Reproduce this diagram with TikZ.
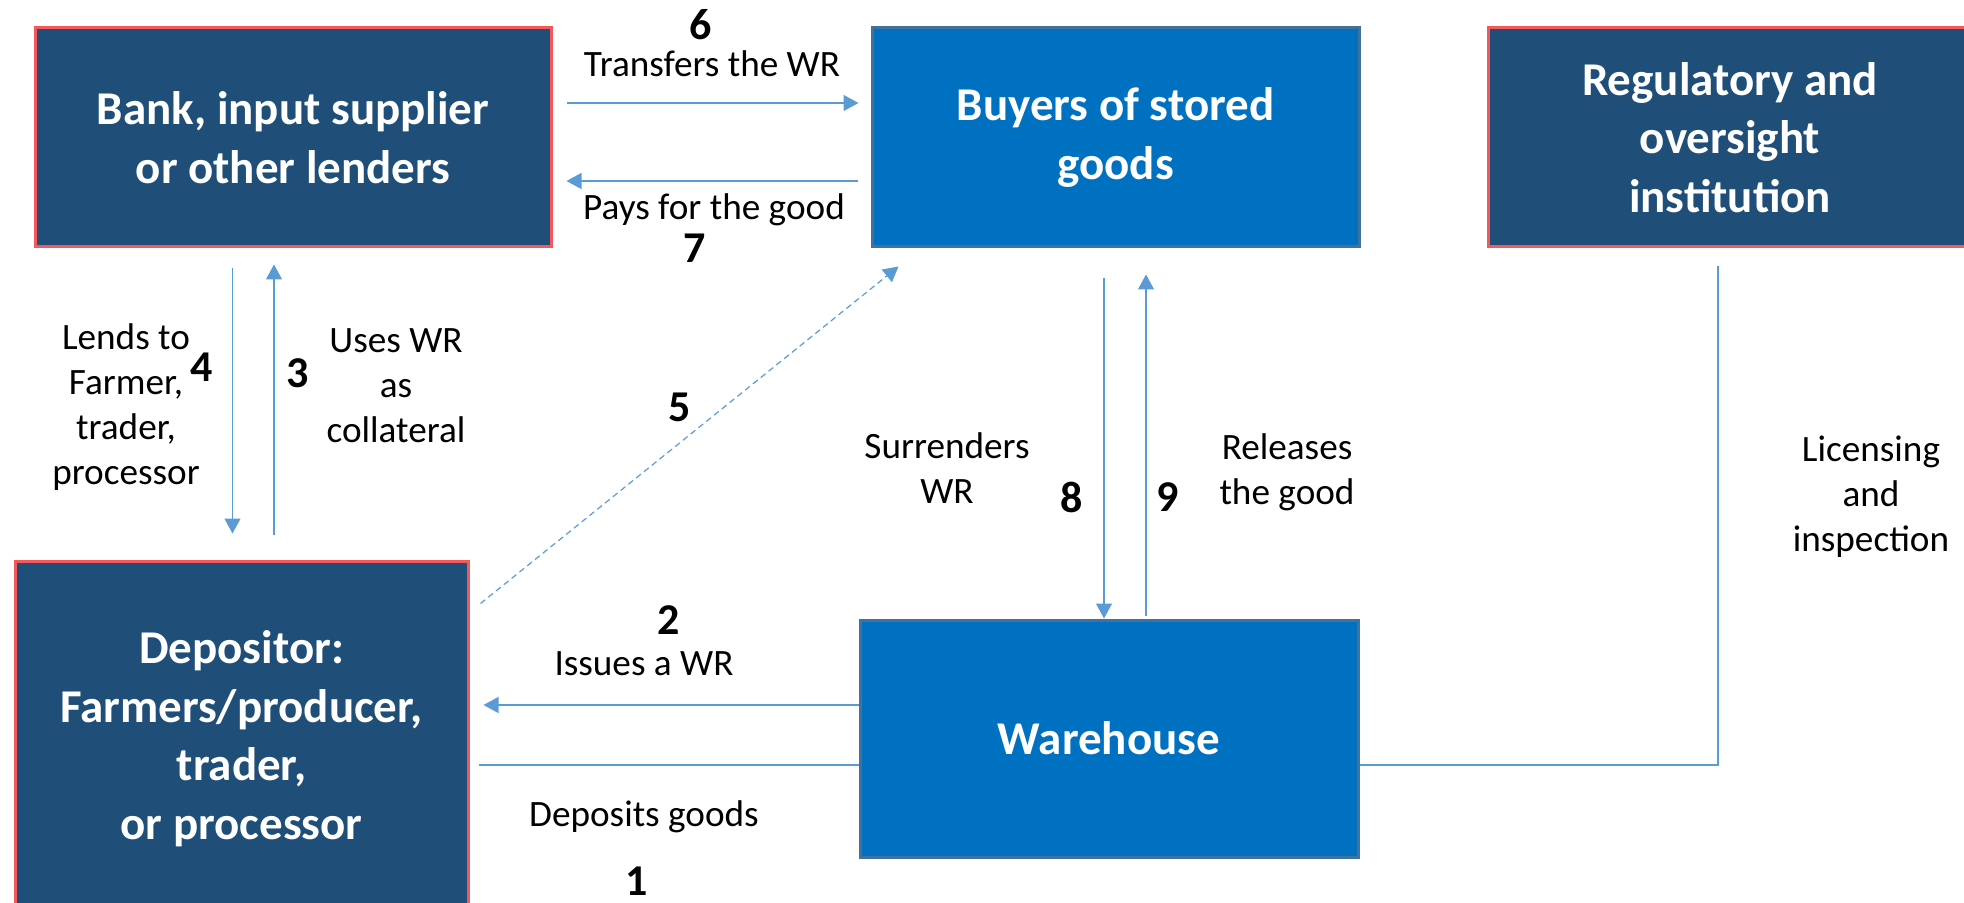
\documentclass[tikz,border=0pt]{standalone}
\usepackage{fontspec}
\setmainfont{Carlito}
\usetikzlibrary{arrows.meta}
\definecolor{darkbox}{HTML}{1F4E79}
\definecolor{redline}{HTML}{F4585B}
\definecolor{bluebox}{HTML}{0070C0}
\definecolor{blueline}{HTML}{41719C}
\definecolor{arrowblue}{HTML}{5B9BD5}
\begin{document}
\begin{tikzpicture}[
    x=0.5pt, y=-0.5pt,
    darknode/.style={rectangle, draw=redline, fill=darkbox, line width=1.5pt, text=white, align=center, inner sep=0pt, font=\bfseries\fontsize{23.5}{29.3}\selectfont},
    bluenode/.style={darknode, draw=blueline, fill=bluebox},
    flow/.style={draw=arrowblue, line width=0.6pt, -{Triangle[width=8pt,length=7.5pt]}},
    plain/.style={draw=arrowblue, line width=0.6pt},
    tlabel/.style={align=center, inner sep=0pt, font=\fontsize{18.6}{22.5}\selectfont},
    num/.style={inner sep=0pt, font=\bfseries\fontsize{22}{26}\selectfont}
    ]
	\useasboundingbox (0,0) rectangle (1964,903);
	\clip (0,0) rectangle (1964,903);
	% boxes
	\node [darknode, minimum width=258pt, minimum height=109.5pt] (bank) at (293,137.5) {Bank, input supplier\\or other lenders};
	\node [bluenode, minimum width=243.5pt, minimum height=109.5pt] (buyers) at (1115.5,137.5) {Buyers of stored\\goods};
	\node [darknode, minimum width=242pt, minimum height=109.5pt] (reg) at (1730,137.5) {Regulatory and\\oversight\\institution};
	\node [darknode, minimum width=226.5pt, minimum height=177.5pt] (dep) at (241.5,738.5) {Depositor:\\Farmers/producer,\\trader,\\or processor};
	\node [bluenode, minimum width=249pt, minimum height=118.5pt] (wh) at (1109,738.5) {Warehouse};
	% connectors
	\draw [flow] ([xshift=7pt,yshift=17.25pt]bank.east) -- ([xshift=-6pt,yshift=17.25pt]buyers.west);
	\draw [flow] ([xshift=-6.5pt,yshift=-21.75pt]buyers.west) -- ([xshift=7pt,yshift=-21.75pt]bank.east);
	\coordinate (lend) at ([xshift=-30.25pt,yshift=-10pt]bank.south);
	\draw [flow] (lend) -- ([yshift=13pt]lend |- dep.north);
	\coordinate (use) at ([xshift=-9.5pt,yshift=-8pt]bank.south);
	\draw [flow] ([yshift=12.5pt]use |- dep.north) -- (use);
	\draw [flow, dash pattern=on 3pt off 2pt] ([xshift=5.5pt,yshift=-22pt]dep.north east) -- ([xshift=14pt,yshift=-9pt]buyers.south west);
	\coordinate (give) at ([xshift=-5.75pt,yshift=-15pt]buyers.south);
	\draw [flow] (give) -- (give |- wh.north);
	\coordinate (take) at ([xshift=15.25pt,yshift=-13pt]buyers.south);
	\draw [flow] ([yshift=1.5pt]take |- wh.north) -- (take);
	\draw [flow] ([yshift=16.75pt]wh.west) -- ([xshift=7pt,yshift=16.75pt]dep.east);
	\draw [plain] ([xshift=4.5pt,yshift=-13.25pt]dep.east) -- ([yshift=-13.25pt]wh.west);
	\coordinate (lic) at ([xshift=-6pt,yshift=-9pt]reg.south);
	\draw [plain] ([yshift=-13.25pt]wh.east) -| (lic);
	% labels
	\node [num] (n6) at (701,25) {6};
	\node [tlabel, anchor=base] (t6) at (712,77) {Transfers the WR};
	\node [tlabel, anchor=base] (t7) at (714,220) {Pays for the good};
	\node [num] (n7) at (695,248) {7};
	\node [tlabel] (t4) at (126,407) {Lends to\\Farmer,\\trader,\\processor};
	\node [num] (n4) at (202,367) {4};
	\node [num] (n3) at (298,373) {3};
	\node [tlabel] (t3) at (396,386) {Uses WR\\as\\collateral};
	\node [num] (n5) at (680,407) {5};
	\node [tlabel] (t8) at (947,468) {Surrenders\\WR};
	\node [num] (n8) at (1072,497) {8};
	\node [num] (n9) at (1168,497) {9};
	\node [tlabel] (t9) at (1287,472) {Releases\\the good};
	\node [tlabel] (tlic) at (1871,497) {Licensing\\and\\inspection};
	\node [num] (n2) at (669,620) {2};
	\node [tlabel, anchor=base] (t2) at (644,675) {Issues a WR};
	\node [tlabel, anchor=base] (t1) at (644,826) {Deposits goods};
	\node [num] (n1) at (637,881) {1};
\end{tikzpicture}
\end{document}
